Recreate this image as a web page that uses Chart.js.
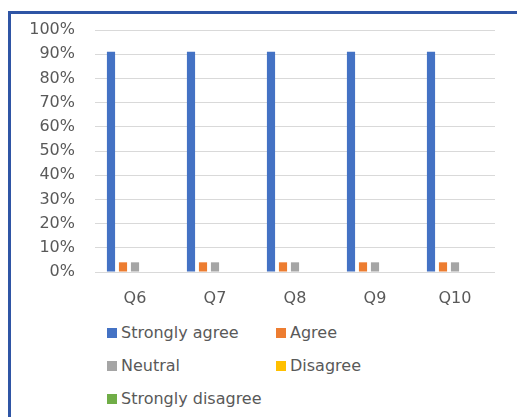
<!DOCTYPE html>
<html>
<head>
<meta charset="utf-8">
<script src="https://cdn.jsdelivr.net/npm/chart.js@4"></script>
<style>
    html, body {
        margin: 0;
        padding: 0;
        width: 517px;
        height: 417px;
        overflow: hidden;
        background: #ffffff;
        font-family: "DejaVu Sans", sans-serif;
    }
    .edge {
        position: absolute;
        background: #2f55a5;
    }
    .edge-top {
        left: 8px;
        top: 11px;
        width: 509px;
        height: 3px;
    }
    .edge-left {
        left: 8px;
        top: 11px;
        width: 3px;
        height: 406px;
    }
    #surveyChart {
        position: absolute;
        left: 0;
        top: 0;
    }
    #legend {
        position: absolute;
        left: 107px;
        top: 316px;
        display: grid;
        grid-template-columns: 169px 160px;
        grid-auto-rows: 33px;
        color: #595959;
        font-size: 16px;
    }
    .legend-item {
        display: flex;
        align-items: center;
        white-space: nowrap;
    }
    .legend-box {
        width: 10px;
        height: 10px;
        margin-right: 4px;
    }
</style>
</head>
<body>
<div class="edge edge-top"></div>
<div class="edge edge-left"></div>
<canvas id="surveyChart" width="517" height="310"></canvas>
<div id="legend"></div>

<script>
const questions = ["Q6", "Q7", "Q8", "Q9", "Q10"];
const responseLabels = ["Strongly agree", "Agree", "Neutral", "Disagree", "Strongly disagree"];
const responseColors = ["#4472c4", "#ed7d31", "#a5a5a5", "#ffc000", "#70ad47"];

const stronglyAgree = [91, 91, 91, 91, 91];
const agree = [4, 4, 4, 4, 4];
const neutral = [4, 4, 4, 4, 4];
const disagree = [0, 0, 0, 0, 0];
const stronglyDisagree = [0, 0, 0, 0, 0];

const yTicks = [0, 10, 20, 30, 40, 50, 60, 70, 80, 90, 100];

const seriesValues = [stronglyAgree, agree, neutral, disagree, stronglyDisagree];

const tickFont = { family: "'DejaVu Sans', sans-serif", size: 16 };

const datasets = responseLabels.map((label, i) => ({
    label,
    data: seriesValues[i],
    backgroundColor: responseColors[i],
    barPercentage: 0.68,
    categoryPercentage: 0.75,
}));

const ctx = document.getElementById("surveyChart").getContext("2d");
const chart = new Chart(ctx, {
    type: "bar",
    data: { labels: questions, datasets },
    options: {
        responsive: false,
        animation: false,
        devicePixelRatio: 1,
        layout: { padding: { top: 30, right: 22, left: 0, bottom: 0 } },
        plugins: {
            legend: { display: false },
            tooltip: { enabled: false },
        },
        scales: {
            x: {
                grid: { display: false },
                border: { display: false },
                ticks: { color: "#595959", font: tickFont, padding: 9 },
                afterFit(scale) {
                    scale.height = 38;
                },
            },
            y: {
                min: 0,
                max: 100,
                afterBuildTicks(scale) {
                    scale.ticks = yTicks.map((v) => ({ value: v }));
                },
                grid: { color: "#d9d9d9", drawTicks: false },
                border: { display: false },
                ticks: {
                    color: "#595959",
                    font: tickFont,
                    padding: 20,
                    callback: (value) => value + "%",
                },
                afterFit(scale) {
                    scale.width = 95;
                },
            },
        },
    },
});

// legend in two columns, built from the chart's datasets
const legendEl = document.getElementById("legend");
legendEl.innerHTML = chart.data.datasets
    .map(
        (ds) => `
        <div class="legend-item">
            <span class="legend-box" style="background:${ds.backgroundColor}"></span>
            <span>${ds.label}</span>
        </div>`,
    )
    .join("");
</script>
</body>
</html>
